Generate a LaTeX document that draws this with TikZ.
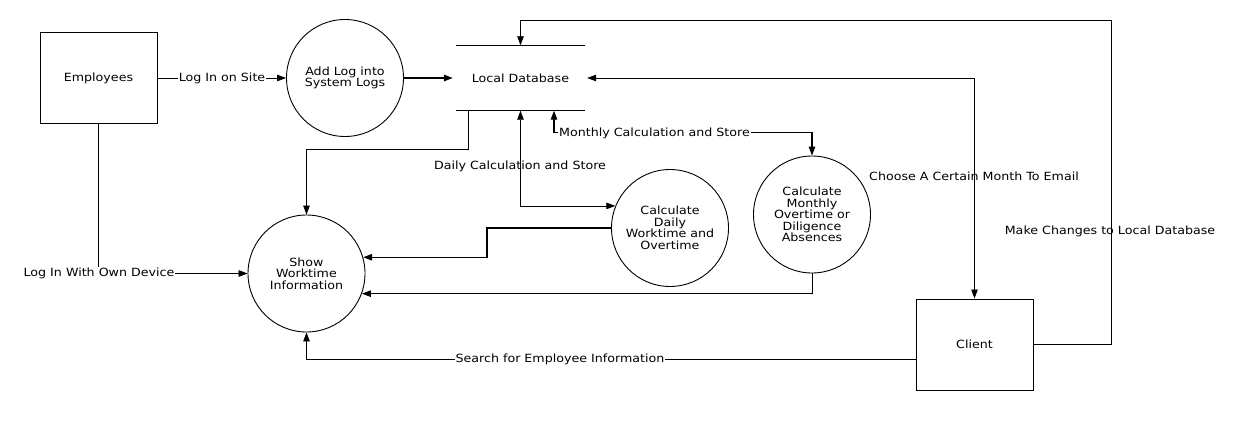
\documentclass[tikz,border=0pt]{standalone}
\usepackage{fontspec}
\setmainfont{DejaVu Sans}[FakeStretch=1.12]
\usetikzlibrary{arrows.meta}
\begin{document}
\begin{tikzpicture}[
    x=1pt, y=-1pt,
    >={Triangle[length=9pt,width=6.5pt]},
    arr/.style={->, draw=black, line width=0.8pt},
    thickarr/.style={arr, line width=1.4pt},
    entity/.style={draw, line width=1pt, minimum width=117pt, minimum height=91pt,
        font=\fontsize{11.3}{11.5}\selectfont},
    process/.style={draw, circle, line width=0.9pt, minimum size=117pt, inner sep=0pt,
        align=center, font=\fontsize{11.3}{11.5}\selectfont},
    store/.style={draw=none, minimum width=129pt, minimum height=65pt,
        font=\fontsize{11.3}{11.5}\selectfont},
    flowlabel/.style={font=\fontsize{11.3}{11.5}\selectfont, inner sep=1pt},
    flowlabelw/.style={flowlabel, fill=white}
]
\useasboundingbox (0,0) rectangle (1248,423);

\node[entity] (emp) at (98.5,78) {Employees};
\node[process] (addlog) at (345,78) {Add Log into\\System Logs};
\node[store] (ldb) at (520.5,78) {Local Database};
\node[process] (show) at (306.5,273.5) {Show\\Worktime\\Information};
\node[process] (daily) at (670,228) {Calculate\\Daily\\Worktime and\\Overtime};
\node[process] (monthly) at (812,214.5) {Calculate\\Monthly\\Overtime or\\Diligence\\Absences};
\node[entity] (client) at (974.5,344.5) {Client};

\coordinate (topright) at (1111,20);

% data store lines
\draw[line width=0.8pt] (ldb.north west) -- (ldb.north east);
\draw[line width=0.8pt] (ldb.south west) -- (ldb.south east);

\draw[arr] (emp.east) -- (addlog.west);
\draw[thickarr] (addlog.east) -- ([xshift=-3pt]ldb.west);
\draw[arr, <->] ([xshift=2pt]ldb.east) -| (client.north);
\draw[arr] (client.east) -| (topright) -| (ldb.north);

\draw[arr] ([xshift=13pt]ldb.south west) -- ++(0,39) -| (show.north);
\draw[arr, <->] (ldb.south) |- (daily.158);
\draw[thickarr, <->] ([xshift=33.5pt]ldb.south) -- ++(0,22) -| (monthly.north);

\draw[thickarr] (daily.west) -- ++(-124,0) |- (show.16.5);
\draw[arr] (monthly.south) |- (show.-20.7);
\draw[arr] ([yshift=-15pt]client.west) -| (show.south);
\draw[arr] (emp.south) |- (show.west);

%------------------------------------------------
% flow labels
%------------------------------------------------
\node[flowlabelw] at (222,78) {Log In on Site};
\node[flowlabel] at (974,176) {Choose A Certain Month To Email};
\node[flowlabel] at (1110,231) {Make Changes to Local Database};
\node[flowlabel] at (520,166) {Daily Calculation and Store};
\node[flowlabelw, anchor=west] at (558,133) {Monthly Calculation and Store};
\node[flowlabelw] at (560,359) {Search for Employee Information};
\node[flowlabelw] at (99,273) {Log In With Own Device};

\end{tikzpicture}
\end{document}
